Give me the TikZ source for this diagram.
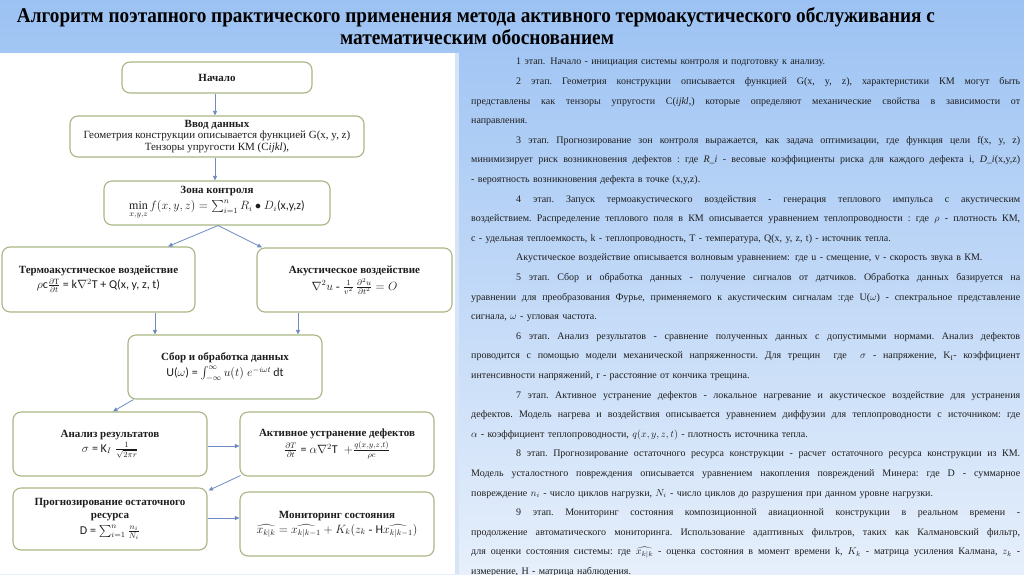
\documentclass[tikz,border=0pt]{standalone}
\usepackage{fontspec}
\setmainfont{Liberation Serif}
\setsansfont{Carlito}
\usepackage{amsmath}
\usepackage{graphicx}
\usetikzlibrary{arrows.meta,calc}
\definecolor{bgtop}{RGB}{156,194,243}
\definecolor{bgbot}{RGB}{230,239,251}
\definecolor{boxline}{RGB}{168,182,132}
\definecolor{arrowc}{RGB}{110,140,195}
\definecolor{txt}{RGB}{30,30,30}
\definecolor{edgeblue}{RGB}{214,228,246}
\newlength\rw
\setlength\rw{549pt}
\newcommand\JSp{\frenchspacing\spaceskip=2.5pt plus 1fil minus 0.6pt\relax}
\newcommand\FullL[1]{\noindent\hbox to \rw{\JSp #1}\par}
\newcommand\IndL[1]{\noindent\hbox to \rw{\JSp\hskip45pt #1}\par}
\newcommand\LastL[1]{\noindent\hbox{#1}\par}
\newcommand\IndLast[1]{\noindent\hbox{\hskip45pt #1}\par}
\newcommand\Fm[1]{{\fontsize{12}{14}\selectfont #1}}
\tikzset{
  fbox/.style={draw=boxline, line width=1.1pt, rounded corners=8pt, fill=white,
    align=center, inner sep=2pt, text=txt, font=\fontsize{11}{13}\selectfont},
  arr/.style={draw=arrowc, line width=0.8pt, -{Triangle[length=4.5pt,width=4pt]}}
}
\begin{document}
\begin{tikzpicture}[x=1pt,y=-1pt]
\useasboundingbox (0,0) rectangle (1024,574);
\shade[top color=bgtop, bottom color=bgbot] (0,0) rectangle (1024,574);
\fill[white] (0,53) rectangle (459,574);
\fill[edgeblue] (455,53) rectangle (459,574);
% title
\node[anchor=base, text=black, inner sep=0pt] (title1) at (476,22) {\resizebox{918pt}{\height}{\fontsize{21}{22}\selectfont\bfseries Алгоритм поэтапного практического применения метода активного термоакустического обслуживания с}};
\node[anchor=base, text=black, inner sep=0pt] (title2) at (477,44) {\resizebox{274pt}{\height}{\fontsize{21}{22}\selectfont\bfseries математическим обоснованием}};
% flowchart
\node[fbox, minimum width=190pt, minimum height=31pt] (start) at (217,77.5) {\textbf{Начало}};
\node[fbox, minimum width=294pt, minimum height=41pt, font=\fontsize{11}{11.5}\selectfont] (input) at (217,136.5) {\textbf{Ввод данных}\\Геометрия конструкции описывается функцией G(x, y, z)\\Тензоры упругости КМ (C\textit{ijkl}),};
\node[fbox, minimum width=226pt, minimum height=44pt] (zone) at (217,203) {\textbf{Зона контроля}\\[3pt] \Fm{$\min\limits_{x,y,z} f(x,y,z) = \textstyle\sum_{i=1}^{n} R_i \bullet D_i$\textsf{(x,y,z)}}};
\node[fbox, minimum width=193pt, minimum height=65pt] (thermo) at (98.5,279.5) {\textbf{Термоакустическое воздействие}\\[2pt] \Fm{$\rho$\textsf{c}$\frac{\partial\mathrm{T}}{\partial t}$\textsf{ = k}$\nabla^2$\textsf{T + Q(x, y, z, t)}}};
\node[fbox, minimum width=195pt, minimum height=64pt] (acoust) at (354.5,280) {\textbf{Акустическое воздействие}\\[2pt] \Fm{$\nabla^2 u$ - $\frac{1}{v^2}\,\frac{\partial^2 u}{\partial t^2} = O$}};
\node[fbox, minimum width=194pt, minimum height=64pt] (collect) at (225,367) {\textbf{Сбор и обработка данных}\\[3pt] \Fm{\textsf{U(}$\omega$\textsf{) = }$\int_{-\infty}^{\infty} u(t)\; e^{-i\omega t}$\,\textsf{dt}}};
\node[fbox, minimum width=194pt, minimum height=64pt] (analysis) at (110,444) {\textbf{Анализ результатов}\\[2pt] \Fm{$\sigma$ \textsf{= K}$_I\;\frac{1}{\sqrt{2\pi r}}$}};
\node[fbox, minimum width=194pt, minimum height=64pt] (active) at (337,444) {\textbf{Активное устранение дефектов}\\[2pt] \Fm{$\frac{\partial T}{\partial t}$ \textsf{=} $\alpha\nabla^2$\textsf{T} $\;+\frac{q(x,y,z,t)}{\rho c}$}};
\node[fbox, minimum width=194pt, minimum height=62pt] (forecast) at (110,519) {\textbf{Прогнозирование остаточного}\\\textbf{ресурса}\\[3pt] \Fm{\textsf{D = }$\sum_{i=1}^{n}\frac{n_i}{N_i}$}};
\node[fbox, minimum width=194pt, minimum height=64pt] (monitor) at (337,524) {\textbf{Мониторинг состояния}\\[2pt] \Fm{$\widehat{x_{k|k}} = \widehat{x_{k|k-1}} + K_k(z_k$ - \textsf{H}$\widehat{x_{k|k-1}})$}};
% connectors
\draw[arr] ([xshift=-2pt]start.south) -- ([xshift=-2pt]start.south |- input.north);
\draw[arr] ([xshift=-2pt]input.south) -- ([xshift=-2pt]input.south |- zone.north);
\draw[arr] ([xshift=1pt]zone.south) -- ([xshift=69.5pt]thermo.north);
\draw[arr] ([xshift=1pt]zone.south) -- ([xshift=-92.5pt]acoust.north);
\draw[arr] ([xshift=56.5pt]thermo.south) -- ([xshift=56.5pt]thermo.south |- collect.north);
\draw[arr] ([xshift=-56.5pt]acoust.south) -- ([xshift=-56.5pt]acoust.south |- collect.north);
\draw[arr] ([xshift=6pt]collect.south west) -- ([xshift=3pt]analysis.north);
\draw[arr] ([yshift=-2pt]analysis.east) -- ([yshift=-2pt]active.west);
\draw[arr] ([xshift=1pt,yshift=1pt]active.south west) -- ([xshift=1pt,yshift=-3pt]forecast.north east);
\draw[arr] ([yshift=1pt]forecast.east) -- ([yshift=1pt]forecast.east -| monitor.west);
% right text
\node[anchor=north west, inner sep=0pt, text width=549pt, text=txt, font=\fontsize{10}{19.6}\selectfont] (body) at (471,58) {\setlength\parindent{0pt}\setlength\parskip{0pt}%
\IndLast{1 этап. Начало - инициация системы контроля и подготовку к анализу.}
\IndL{2 этап. Геометрия конструкции описывается функцией G(x, y, z), характеристики КМ могут быть}
\FullL{представлены как тензоры упругости C(\textit{ijkl},) которые определяют механические свойства в зависимости от}
\LastL{направления.}
\IndL{3 этап. Прогнозирование зон контроля выражается, как задача оптимизации, где функция цели f(x, y, z)}
\FullL{минимизирует риск возникновения дефектов : где \textit{R\_i} - весовые коэффициенты риска для каждого дефекта i, \textit{D\_i}(x,y,z)}
\LastL{- вероятность возникновения дефекта в точке (x,y,z).}
\IndL{4 этап. Запуск термоакустического воздействия - генерация теплового импульса с акустическим}
\FullL{воздействием. Распределение теплового поля в КМ описывается уравнением теплопроводности : где $\rho$ - плотность КМ,}
\LastL{с - удельная теплоемкость, k - теплопроводность, T - температура, Q(x, y, z, t) - источник тепла.}
\IndLast{Акустическое воздействие описывается волновым уравнением: где u - смещение, v - скорость звука в КМ.}
\IndL{5 этап. Сбор и обработка данных - получение сигналов от датчиков. Обработка данных базируется на}
\FullL{уравнении для преобразования Фурье, применяемого к акустическим сигналам :где U($\omega$) - спектральное представление}
\LastL{сигнала, $\omega$ - угловая частота.}
\IndL{6 этап. Анализ результатов - сравнение полученных данных с допустимыми нормами. Анализ дефектов}
\FullL{проводится с помощью модели механической напряженности. Для трещин \ где \ $\sigma$ - напряжение, K$_\mathrm{I}$- коэффициент}
\LastL{интенсивности напряжений, r - расстояние от кончика трещина.}
\IndL{7 этап. Активное устранение дефектов - локальное нагревание и акустическое воздействие для устранения}
\FullL{дефектов. Модель нагрева и воздействия описывается уравнением диффузии для теплопроводности с источником: где}
\LastL{$\alpha$ - коэффициент теплопроводности, $q(x,y,z,t)$ - плотность источника тепла.}
\IndL{8 этап. Прогнозирование остаточного ресурса конструкции - расчет остаточного ресурса конструкции из КМ.}
\FullL{Модель усталостного повреждения описывается уравнением накопления повреждений Минера: где D - суммарное}
\LastL{повреждение $n_i$ - число циклов нагрузки, $N_i$ - число циклов до разрушения при данном уровне нагрузки.}
\IndL{9 этап. Мониторинг состояния композиционной авиационной конструкции в реальном времени -}
\FullL{продолжение автоматического мониторинга. Использование адаптивных фильтров, таких как Калмановский фильтр,}
\FullL{для оценки состояния системы: где $\widehat{x_{k|k}}$ - оценка состояния в момент времени k, $K_k$ - матрица усиления Калмана, $z_k$ -}
\LastL{измерение, H - матрица наблюдения.}
};
\end{tikzpicture}
\end{document}
